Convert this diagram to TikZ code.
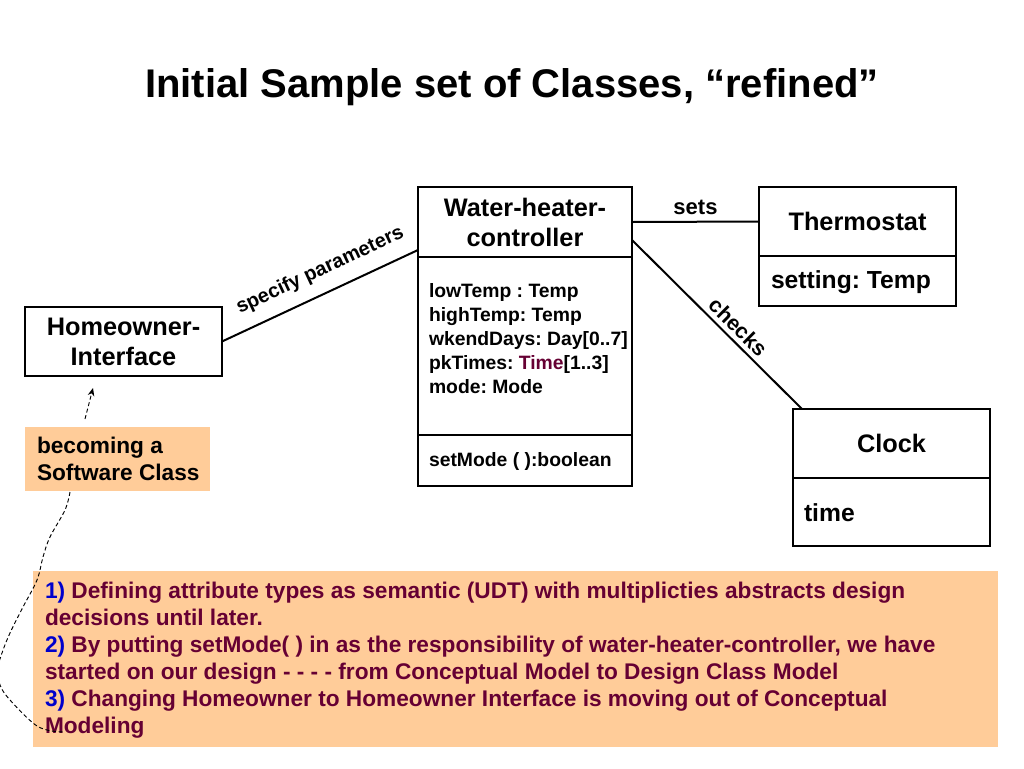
\documentclass[tikz,border=0pt]{standalone}
\usepackage{fontspec}
\setmainfont{Liberation Sans}
\usetikzlibrary{calc,arrows.meta}
\definecolor{peach}{HTML}{FFCC99}
\definecolor{maroon}{HTML}{660033}
\definecolor{numblue}{HTML}{0000CC}
\frenchspacing
\begin{document}
\frenchspacing
\begin{tikzpicture}[x=0.75pt,y=-0.75pt,
  every node/.style={inner sep=0pt, outer sep=0pt},
  umlbox/.style={draw, line width=1.6pt, anchor=north west, align=center,
     font=\fontsize{19}{22.5}\selectfont\bfseries},
  peachbox/.style={fill=peach, anchor=north west},
  attr/.style={align=left, font=\fontsize{14.5}{18}\selectfont\bfseries\frenchspacing},
  bigattr/.style={anchor=west, font=\fontsize{18.5}{22}\selectfont\bfseries\frenchspacing},
  conn/.style={line width=1.5pt},
  lbl/.style={font=\fontsize{16.5}{19}\selectfont\bfseries},
  dashy/.style={line width=0.7pt, dash pattern=on 3pt off 2pt}
]
\useasboundingbox (0,0) rectangle (1024,768);

% title
\node[anchor=base, font=\fontsize{30}{36}\selectfont\bfseries] (title) at (512,97)
  {Initial Sample set of Classes, “refined”};

% Water-heater-controller
\node[umlbox, minimum width=160.5pt, minimum height=52.5pt] (whcH) at (418,187)
  {Water-heater-\\controller};
\node[umlbox, minimum width=160.5pt, minimum height=133.5pt] (whcA) at (418,257) {};
\node[umlbox, minimum width=160.5pt, minimum height=38.25pt] (whcO) at (418,435) {};
\node[attr, anchor=north west] (whcAt) at ($(whcA.north west)+(11,26)$)
  {lowTemp : Temp\\highTemp: Temp\\wkendDays: Day[0..7]\\pkTimes: \textcolor{maroon}{Time}[1..3]\\mode: Mode};
\node[attr, anchor=west] (whcOt) at ($(whcO.west)+(11,1)$) {setMode ( ):boolean};

% Thermostat
\node[umlbox, minimum width=147.75pt, minimum height=51.75pt] (thH) at (759,187) {Thermostat};
\node[umlbox, minimum width=147.75pt, minimum height=37.5pt] (thA) at (759,256) {};
\node[bigattr] (thAt) at ($(thA.west)+(12,1)$) {setting: Temp};

% Clock
\node[umlbox, minimum width=147.75pt, minimum height=51.75pt] (clH) at (793,409) {Clock};
\node[umlbox, minimum width=147.75pt, minimum height=51pt] (clA) at (793,478) {};
\node[bigattr] (clAt) at ($(clA.west)+(11,1)$) {time};

% Homeowner-Interface
\node[umlbox, minimum width=147.75pt, minimum height=51.75pt] (ho) at (25,307)
  {Homeowner-\\Interface};

% becoming box
\node[peachbox, minimum width=138.75pt, minimum height=48pt] (bec) at (25,427) {};
\node[anchor=west, align=left, font=\fontsize{17}{20.25}\selectfont\bfseries] (bect)
  at ($(bec.west)+(12,0)$) {becoming a\\Software Class};

% note box
\node[peachbox, minimum width=723.75pt, minimum height=132pt] (note) at (33,571) {};
\node[anchor=north west, align=left, text=maroon,
      font=\fontsize{17}{20.25}\selectfont\bfseries\frenchspacing] (notet) at ($(note.north west)+(12,11)$)
  {\textcolor{numblue}{1)} Defining attribute types as semantic (UDT) with multiplicties abstracts design\\
   decisions until later.\\
   \textcolor{numblue}{2)} By putting setMode( ) in as the responsibility of water-heater-controller, we have\\
   started on our design - - - - from Conceptual Model to Design Class Model\\
   \textcolor{numblue}{3)} Changing Homeowner to Homeowner Interface is moving out of Conceptual\\
   Modeling};

% connectors
\draw[conn] (ho.east) -- node[pos=0.55, sloped, above=10pt, font=\fontsize{15}{18}\selectfont\bfseries] {specify parameters}
  ($(whcH.south west)+(0,-7)$);
\draw[conn] (whcH.east) -- node[midway, above=5pt, lbl] {sets} (thH.west);
\draw[conn] ($(whcH.east)+(0,18)$) -- node[pos=0.57, sloped, above=4pt, font=\fontsize{16}{19}\selectfont\bfseries] {checks}
  ($(clH.north west)+(9,0)$);

% dashed arrow and freehand dashed curve
\coordinate (arrS) at ($(bec.north west)+(60,-8)$);
\coordinate (arrE) at ($(ho.south west)+(68,12)$);
\draw[dashy, -{Stealth[length=6pt,width=5pt]}] (arrS) -- (arrE);
\coordinate (becS) at ($(bec.south west)+(45,1)$);
\coordinate (modE) at ($(note.south west)+(30,-15)$);
\draw[dashy] plot[smooth, tension=0.6] coordinates {(becS) (65,510) (50,537) (43,557) (37,580)
  (23,607) (10,633) (2,653) (-2,668) (0,685) (10,700) (33,723) (47,730) (modE)};
\end{tikzpicture}
\end{document}
